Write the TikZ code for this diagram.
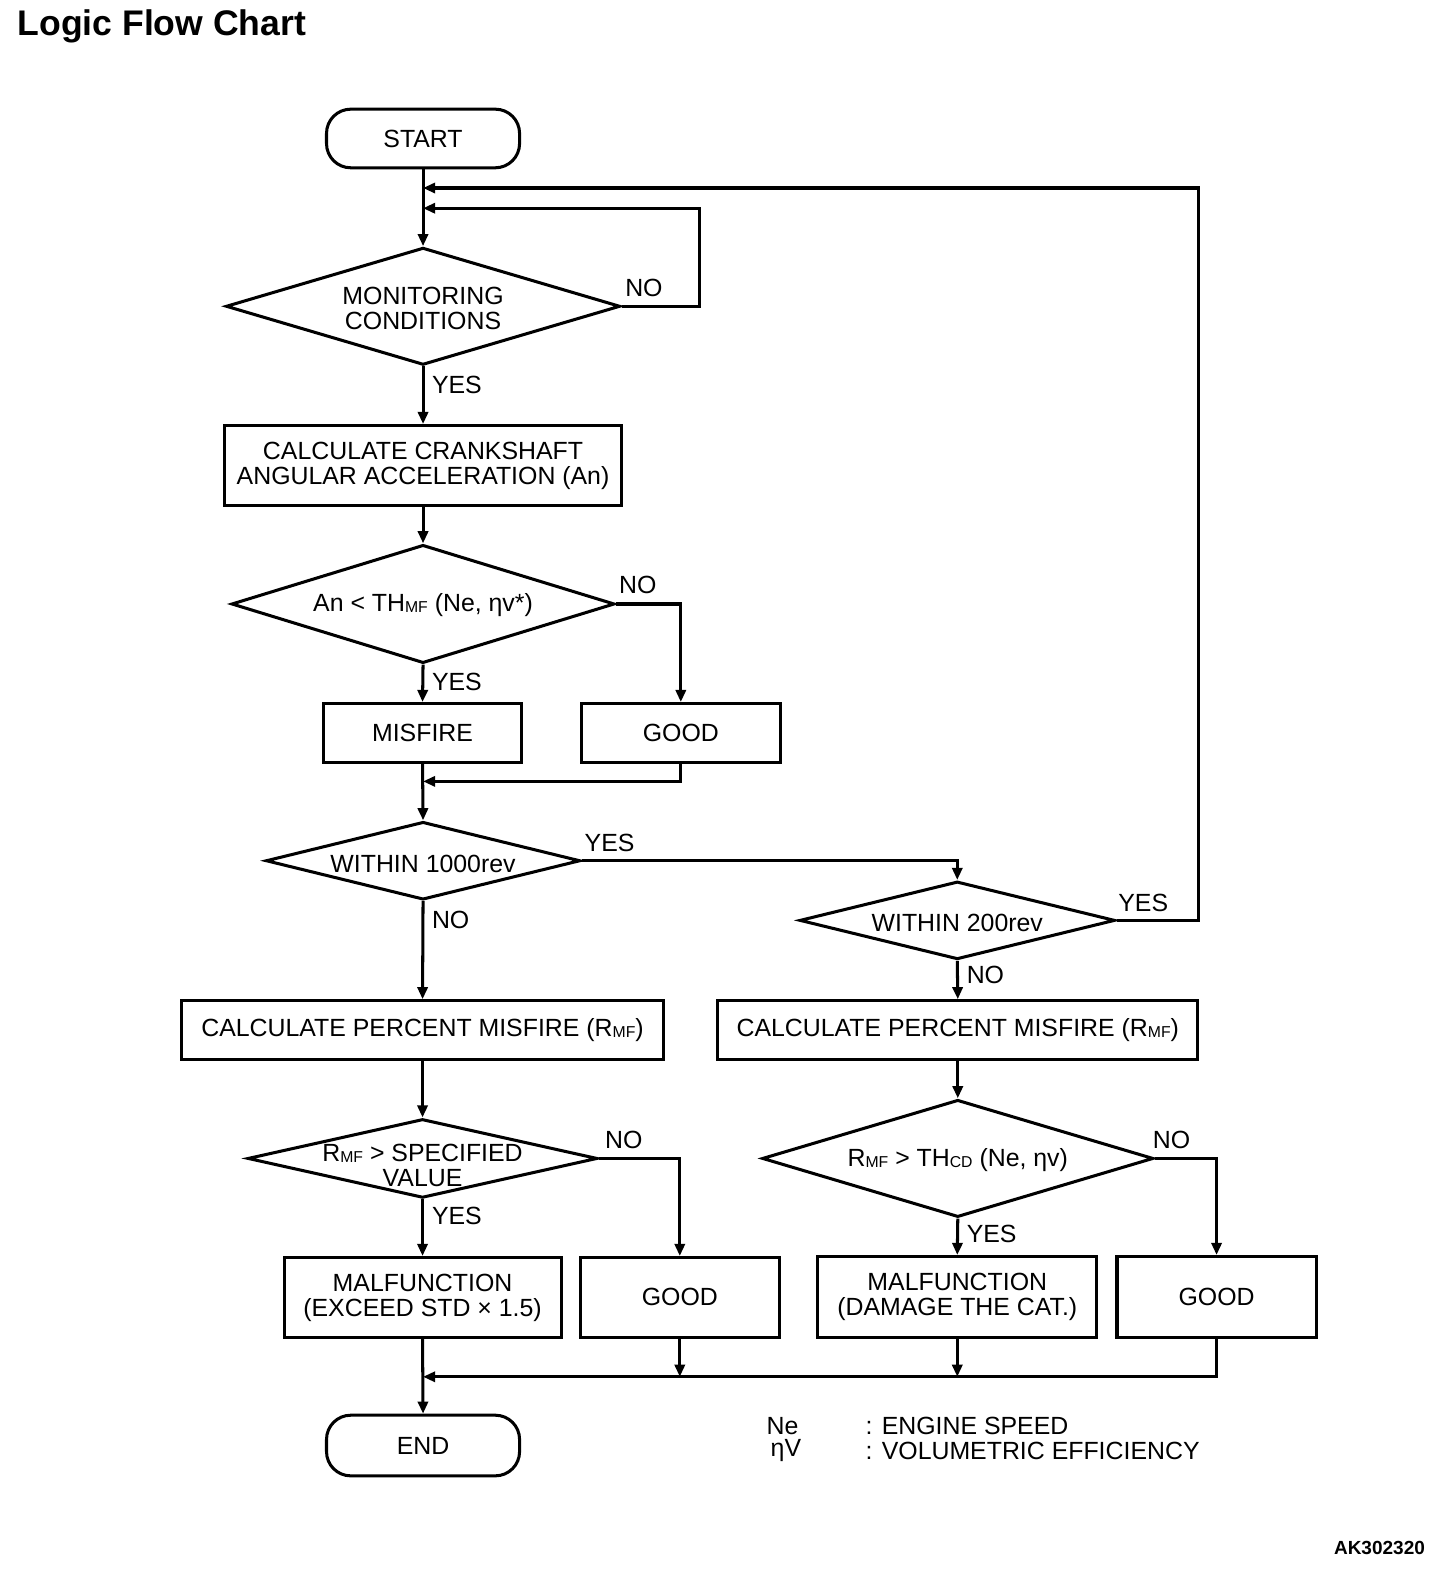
\documentclass[tikz,border=0pt]{standalone}
\usepackage{fontspec}
\setmainfont{Liberation Sans}
\usetikzlibrary{shapes.geometric,arrows.meta}
\newcommand{\fs}{\fontsize{12.3}{12.4}\selectfont}
\newcommand{\sbs}[1]{\raisebox{-0.5pt}{\fontsize{7.8}{8}\selectfont #1}}
\tikzset{
  ln/.style={line width=1.5pt},
  arr/.style={ln,-{Triangle[length=6pt,width=5pt]}},
  box/.style={draw,ln,rectangle,inner sep=0pt,align=center,font=\fs},
  term/.style={box,rounded corners=12pt},
  dia/.style={draw,ln,diamond,inner sep=0pt,aspect=3},
  txt/.style={font=\fs,align=center,inner sep=0pt},
  lab/.style={font=\fs,inner sep=0pt}
}
\begin{document}
\begin{tikzpicture}[x=0.5pt,y=-0.5pt]
\useasboundingbox[fill=white] (0,0) rectangle (1440,1567);
% title
\node[anchor=base west,inner sep=0pt,font=\fontsize{17.6}{20}\selectfont\bfseries] (title) at (17,35.6) {Logic Flow Chart};
% nodes
\node[term,minimum width=95.5pt,minimum height=29pt] (start) at (418.5,137) {START};
\node[dia,minimum width=195pt,minimum height=58pt] (d1) at (418.5,303) {};
\node[txt] (t1) at (418.5,305) {MONITORING\\CONDITIONS};
\node[box,minimum width=196.5pt,minimum height=39.5pt] (calc1) at (418.5,460.5) {CALCULATE CRANKSHAFT\\ANGULAR ACCELERATION (An)};
\node[dia,minimum width=189.5pt,minimum height=58.5pt] (d2) at (418.5,597.5) {};
\node[txt] (t2) at (418.5,599) {An {<} TH\sbs{MF} (Ne, ηv*)};
\node[box,minimum width=98pt,minimum height=29pt] (misfire) at (418,725) {MISFIRE};
\node[box,minimum width=98.5pt,minimum height=29pt] (good1) at (673.5,725) {GOOD};
\node[dia,minimum width=155.5pt,minimum height=38.5pt] (d3) at (418.5,851.5) {};
\node[txt] (t3) at (418.5,855) {WITHIN 1000rev};
\node[dia,minimum width=156pt,minimum height=38.5pt] (d4) at (947,910.5) {};
\node[txt] (t4) at (947,913) {WITHIN 200rev};
\node[box,minimum width=238pt,minimum height=29pt] (calcL) at (418,1019) {CALCULATE PERCENT MISFIRE (R\sbs{MF})};
\node[box,minimum width=237.5pt,minimum height=29pt] (calcR) at (947.5,1019) {CALCULATE PERCENT MISFIRE (R\sbs{MF})};
\node[dia,minimum width=173pt,minimum height=39pt] (d5) at (418,1146) {};
\node[txt] (t5) at (418,1153) {R\sbs{MF} > SPECIFIED\\VALUE};
\node[dia,minimum width=193.5pt,minimum height=58pt] (d6) at (947.5,1146) {};
\node[txt] (t6) at (947.5,1148) {R\sbs{MF} > TH\sbs{CD} (Ne, ηv)};
\node[box,minimum width=137pt,minimum height=39.5pt] (malL) at (418,1283.5) {MALFUNCTION\\(EXCEED STD × 1.5)};
\node[box,minimum width=98.5pt,minimum height=39.5pt] (goodL) at (672.5,1283.5) {GOOD};
\node[box,minimum width=138pt,minimum height=40pt] (malR) at (947,1283) {MALFUNCTION\\(DAMAGE THE CAT.)};
\node[box,minimum width=98.5pt,minimum height=40pt] (goodR) at (1203.5,1283) {GOOD};
\node[term,minimum width=95.5pt,minimum height=30pt] (end) at (418.5,1430) {END};
% junction coordinates
\coordinate (j1) at (418.5,206);
\coordinate (c1) at (692,206);
\coordinate (j3) at (418.5,186);
\coordinate (c2) at (1186,186);
\coordinate (j2) at (418.5,773);
\coordinate (j4) at (418.5,1362);
% connectors
\draw[arr] (start.south) -- (d1.north);
\draw[arr] (d1.east) -| (c1) -- (j1);
\draw[arr] (d1.south) -- (calc1.north);
\draw[arr] (calc1.south) -- (d2.north);
\draw[arr] (d2.east) -| (good1.north);
\draw[arr] (d2.south) -- (misfire.north);
\draw[arr] (misfire.south) -- (d3.north);
\draw[arr] (good1.south) |- (j2);
\draw[arr] (d3.east) -| (d4.north);
\draw[arr] (d4.east) -| (c2) -- (j3);
\draw[arr] (d3.south) -- (calcL.north);
\draw[arr] (d4.south) -- (calcR.north);
\draw[arr] (calcL.south) -- (d5.north);
\draw[arr] (calcR.south) -- (d6.north);
\draw[arr] (d5.east) -| (goodL.north);
\draw[arr] (d5.south) -- (malL.north);
\draw[arr] (d6.east) -| (goodR.north);
\draw[arr] (d6.south) -- (malR.north);
\draw[arr] (malL.south) -- (end.north);
\draw[arr] (goodR.south) |- (j4);
\draw[arr] (goodL.south) -- (goodL.south |- j4);
\draw[arr] (malR.south) -- (malR.south |- j4);
% labels
\node[lab] (n1) at (637,285) {NO};
\node[lab,anchor=west] (y1) at (427,381) {YES};
\node[lab] (n2) at (631,579) {NO};
\node[lab,anchor=west] (y2) at (427,675) {YES};
\node[lab] (y3) at (603,834) {YES};
\node[lab,anchor=west] (n3) at (427,910) {NO};
\node[lab] (y4) at (1131,893) {YES};
\node[lab,anchor=west] (n4) at (956,964) {NO};
\node[lab] (n5) at (617,1128) {NO};
\node[lab,anchor=west] (y5) at (427,1203) {YES};
\node[lab] (n6) at (1159,1128) {NO};
\node[lab,anchor=west] (y6) at (956,1221) {YES};
% legend
\node[lab,anchor=west] (lg1) at (758,1411) {Ne};
\node[lab,anchor=west] (lg2) at (762,1435) {ηV};
\node[lab,anchor=west] (lg3) at (856,1411) {: ENGINE SPEED};
\node[lab,anchor=west] (lg4) at (856,1435) {: VOLUMETRIC EFFICIENCY};
\node[anchor=base east,inner sep=0pt,font=\fontsize{9.4}{11}\selectfont\bfseries] (code) at (1410,1538) {AK302320};
\end{tikzpicture}
\end{document}
